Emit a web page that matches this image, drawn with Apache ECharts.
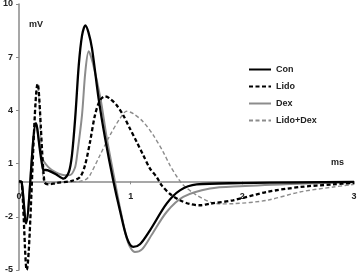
<!DOCTYPE html>
<html><head><meta charset="utf-8">
<script src="https://cdn.jsdelivr.net/npm/echarts@6/dist/echarts.min.js"></script>
<style>html,body{margin:0;padding:0;background:#fff}#c{width:358px;height:275px}</style>
</head><body><div id="c"></div>
<script>
var yTicks = [-5, -2, 1, 4, 7, 10];
var xTicks = [0, 1, 2, 3];

var conX = [0,0.024,0.063,0.152,0.215,0.26,0.331,0.40,0.446,0.474,0.505,0.535,0.564,0.594,0.622,0.654,0.713,0.772,0.844,0.904,0.967,1.023,1.083,1.173,1.322,1.441,1.591,1.979,2.516,3.0];
var conY = [0,-0.05,-2.37,3.27,0.7,0.62,0.4,0.15,0.52,1.47,3.72,6.54,8.2,8.8,8.4,7.48,4.66,2.4,0.05,-1.64,-3.2,-3.7,-3.55,-2.76,-1.26,-0.51,-0.17,-0.1,-0.06,-0.03];

var lidoX = [0,0.024,0.069,0.167,0.227,0.26,0.33,0.474,0.546,0.591,0.636,0.68,0.725,0.77,0.815,0.875,0.934,0.994,1.054,1.113,1.173,1.233,1.278,1.35,1.441,1.531,1.62,1.71,1.916,2.218,2.516,2.811,3.0];
var lidoY = [0,-0.05,-5.0,5.5,-0.04,-0.17,-0.1,0.03,0.24,0.9,2.22,3.72,4.57,4.79,4.66,4.29,3.72,2.97,2.22,1.47,0.72,0.24,-0.23,-0.7,-1.07,-1.28,-1.35,-1.26,-1.07,-0.6,-0.32,-0.17,-0.08];

var dexX = [0,0.024,0.063,0.152,0.203,0.263,0.331,0.412,0.456,0.5,0.52,0.564,0.594,0.624,0.66,0.73,0.787,0.859,0.913,0.976,1.038,1.101,1.19,1.322,1.471,1.71,1.979,2.516,3.0];
var dexY = [0,-0.05,-2.3,3.3,1.37,0.8,0.5,0.34,0.35,0.75,1.47,3.72,6.17,7.33,6.7,4.66,2.4,0.0,-1.75,-3.44,-3.99,-3.84,-3.0,-1.73,-0.88,-0.41,-0.28,-0.14,-0.05];

var ldX = [0,0.024,0.069,0.167,0.215,0.245,0.367,0.546,0.6,0.635,0.725,0.815,0.904,0.964,1.023,1.113,1.203,1.292,1.352,1.41,1.47,1.576,1.71,1.8,1.919,2.218,2.516,2.814,3.0];
var ldY = [0,-0.05,-4.8,5.47,0.17,-0.12,-0.05,0,0.11,0.34,1.47,2.6,3.54,3.95,3.82,3.35,2.6,1.65,0.9,0.3,-0.2,-0.72,-1.17,-1.27,-1.26,-1.07,-0.6,-0.32,-0.17];

function pairs(xs, ys){ return xs.map(function(x,i){ return [x, ys[i]]; }); }

var font = 'Liberation Sans';
var txt = {fontFamily: font, fontSize: 9, fontWeight: 'bold', color: '#222'};
var chart = echarts.init(document.getElementById('c'), null, {renderer:'canvas'});
chart.setOption({
  animation: false,
  backgroundColor: '#fff',
  grid: {left: 19, right: 4, top: 4, bottom: 5, containLabel: false, outerBoundsMode: 'none'},
  legend: {
    orient: 'vertical', left: 243, top: 60, itemWidth: 22, itemHeight: 10, itemGap: 8,
    itemStyle: {color: 'rgba(0,0,0,0)', borderWidth: 0, opacity: 0},
    textStyle: txt,
    data: ['Con','Lido','Dex','Lido+Dex']
  },
  xAxis: [{
    type: 'value', min: 0, max: 3, interval: 1,
    axisLine: {show: true, onZero: true, lineStyle: {color: '#8a8a8a', width: 1.5}},
    axisTick: {show: true, length: 3, lineStyle: {color: '#8a8a8a'}},
    axisLabel: {show: false},
    splitLine: {show: false},
    name: 'ms', nameLocation: 'end', nameGap: 0,
    nameTextStyle: Object.assign({align: 'right', verticalAlign: 'bottom', padding: [0, 10, 14, 0]}, txt)
  }, {
    type: 'value', min: 0, max: 3, interval: 1, position: 'bottom',
    axisLine: {show: false, onZero: false},
    axisTick: {show: false},
    axisLabel: Object.assign({show: true, inside: true, margin: 69, customValues: xTicks}, txt),
    splitLine: {show: false}
  }],
  yAxis: {
    type: 'value', min: -5, max: 10,
    axisLine: {show: true, onZero: false, lineStyle: {color: '#8a8a8a', width: 1.5}},
    axisTick: {show: true, length: 3, customValues: yTicks, lineStyle: {color: '#8a8a8a'}},
    axisLabel: Object.assign({customValues: yTicks, margin: 6}, txt),
    splitLine: {show: false},
    name: 'mV', nameLocation: 'end', nameGap: 0,
    nameTextStyle: Object.assign({align: 'left', verticalAlign: 'top', padding: [16, 0, 0, 10]}, txt)
  },
  series: [
    {name: 'Con', type: 'line', data: pairs(conX, conY), smooth: 0.3, symbol: 'none', z: 4,
     lineStyle: {color: '#000', width: 2.3}, itemStyle: {color: '#000'}},
    {name: 'Lido', type: 'line', data: pairs(lidoX, lidoY), smooth: 0.3, symbol: 'none', z: 3,
     lineStyle: {color: '#000', width: 2.3, type: [4, 2.5]}, itemStyle: {color: '#000'}},
    {name: 'Dex', type: 'line', data: pairs(dexX, dexY), smooth: 0.3, symbol: 'none', z: 2,
     lineStyle: {color: '#8c8c8c', width: 2}, itemStyle: {color: '#8c8c8c'}},
    {name: 'Lido+Dex', type: 'line', data: pairs(ldX, ldY), smooth: 0.3, symbol: 'none', z: 1,
     lineStyle: {color: '#8c8c8c', width: 1.4, type: [4, 2.5]}, itemStyle: {color: '#8c8c8c'}}
  ]
});
</script></body></html>
